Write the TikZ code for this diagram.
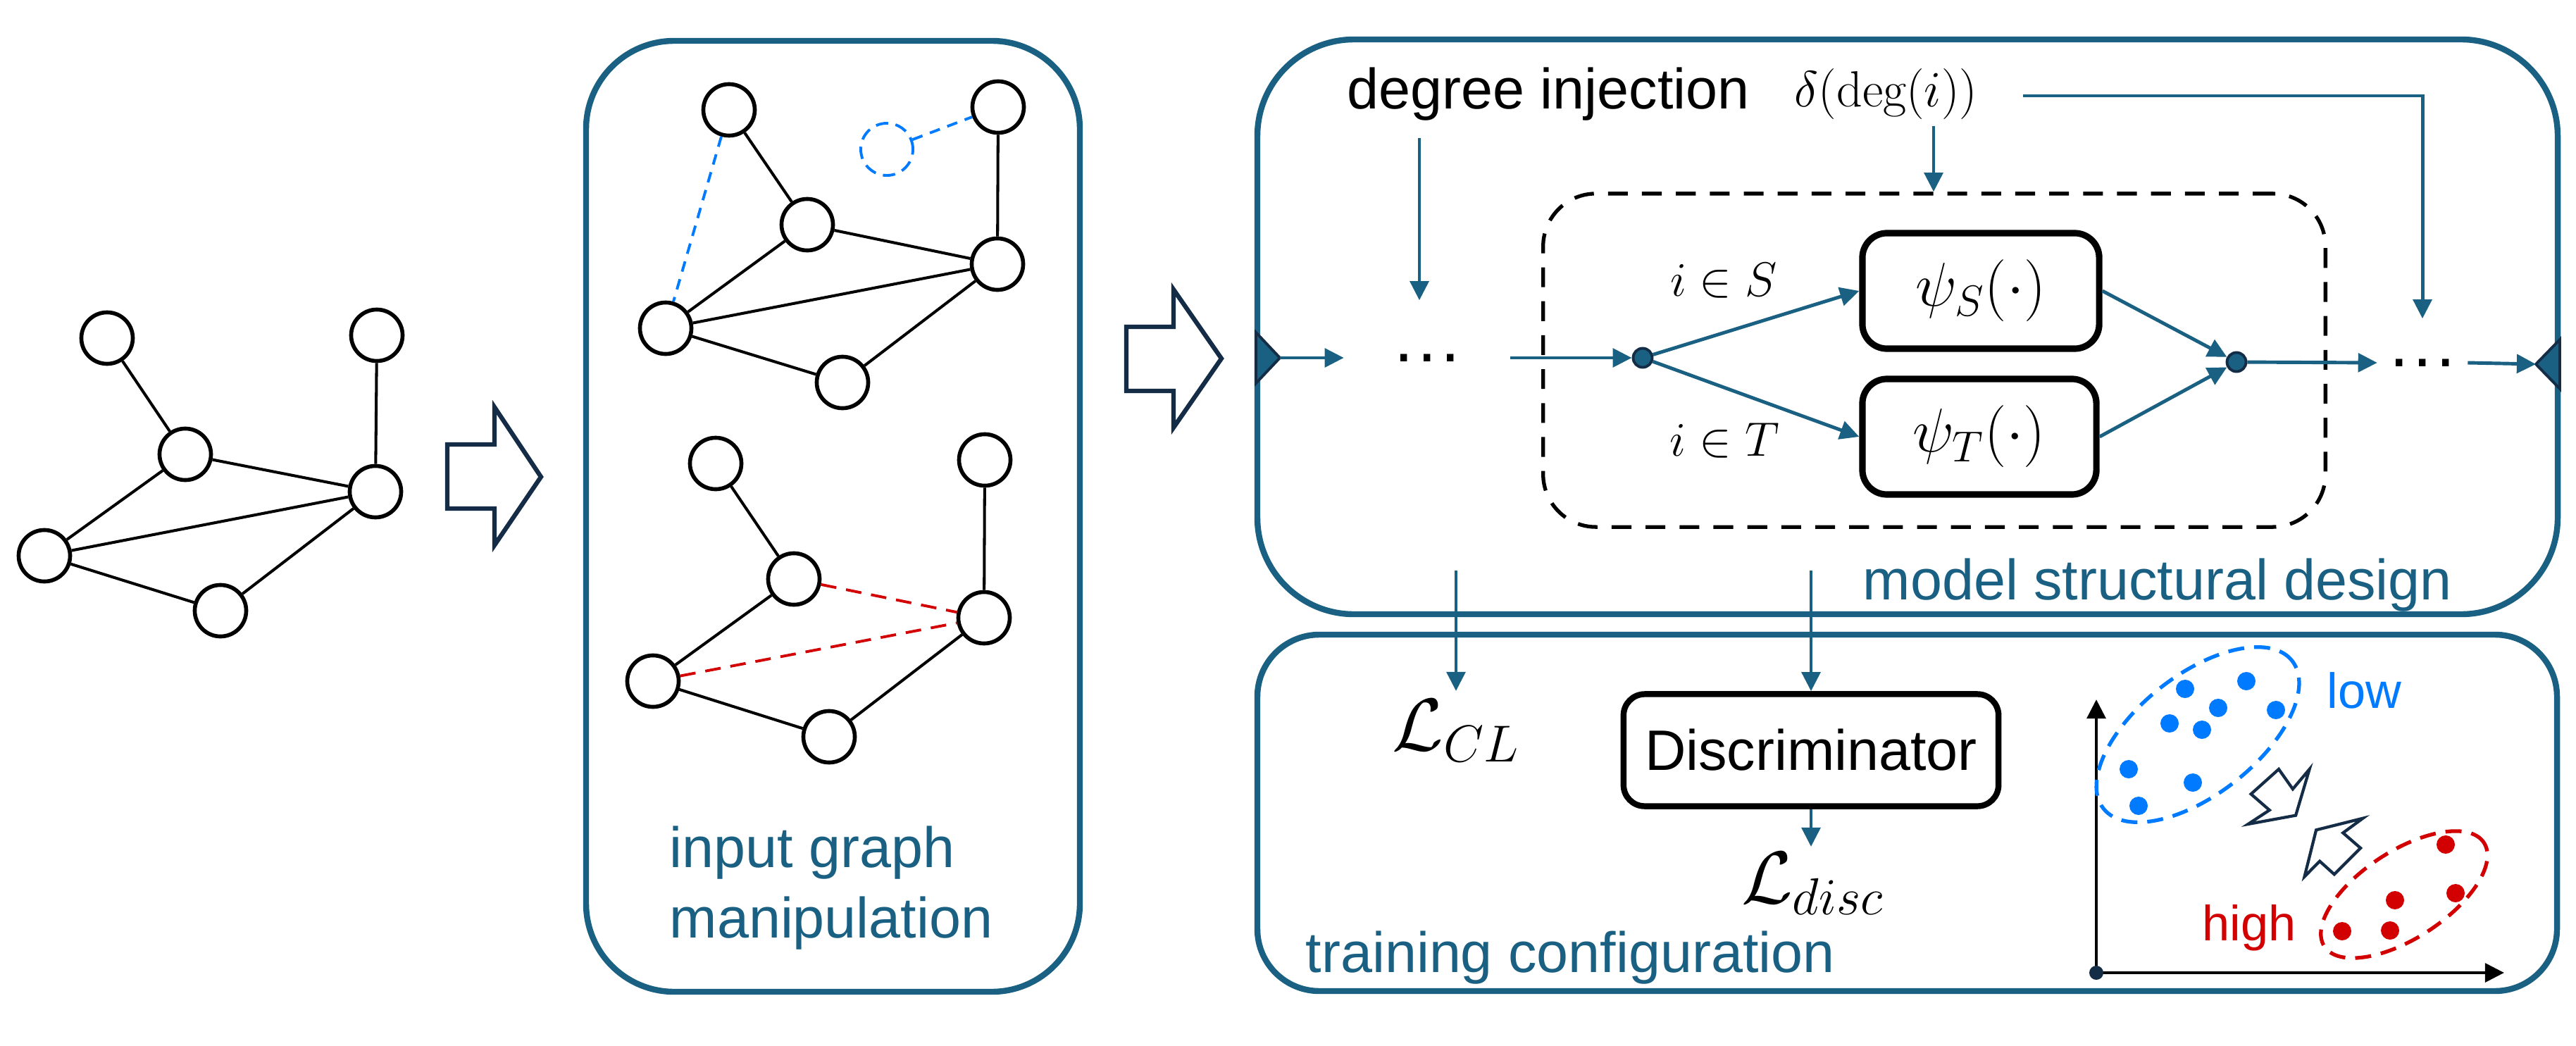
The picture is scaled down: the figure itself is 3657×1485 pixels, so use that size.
\RequirePackage{fix-cm}
\documentclass[tikz,border=0pt]{standalone}
\usepackage{amsmath}
\usepackage{fontspec}
\setsansfont{Liberation Sans}
\usepackage{tikz}
\usetikzlibrary{arrows.meta, positioning}

\definecolor{boxteal}{RGB}{26,96,130}
\definecolor{darknavy}{RGB}{20,44,70}
\definecolor{lowblue}{RGB}{0,122,255}
\definecolor{highred}{RGB}{210,0,0}

\newcommand{\lblfont}{\sffamily\fontsize{23}{28.5}\selectfont}

\begin{document}
\begin{tikzpicture}[x=0.01cm, y=-0.01cm, >={Triangle[length=7.7pt,width=7.5pt]},
    gnode/.style={circle, draw, line width=1.6pt, minimum size=0.73cm, inner sep=0pt},
    ghost/.style={circle, draw=lowblue, line width=1.1pt, dash pattern=on 5pt off 3pt, minimum size=0.74cm, inner sep=0pt},
    link/.style={line width=1.15pt},
    addlink/.style={draw=lowblue, line width=1.1pt, dash pattern=on 4.3pt off 3.2pt},
    droplink/.style={draw=highred, line width=1.1pt, dash pattern=on 6.3pt off 4pt},
    panel/.style={draw=boxteal, line width=2.4pt},
    panellabel/.style={text=boxteal, font=\lblfont, inner sep=0pt},
    bigarrow/.style={draw=darknavy, line width=1.8pt, fill=white, line join=miter},
    flow/.style={->, draw=boxteal, line width=1.4pt},
    module/.style={draw, line width=2.6pt, rounded corners=0.35cm, inner sep=0pt},
    junction/.style={circle, fill=boxteal, draw=darknavy, line width=1.1pt, minimum size=0.27cm, inner sep=0pt},
    portmark/.style={fill=boxteal, draw=darknavy, line width=1.1pt, line join=miter},
    dotsbox/.style={font=\sffamily\fontsize{28}{34}\selectfont, inner sep=0pt},
    axisline/.style={->, line width=1.4pt},
    cluster/.style={line width=1.5pt, dash pattern=on 6.5pt off 4pt}
  ]

  \fill[white] (0,0) rectangle (3657,1485);

  % original graph
  \node[gnode] (a1) at (152,480) {};
  \node[gnode] (a2) at (535,476) {};
  \node[gnode] (a3) at (263,645) {};
  \node[gnode] (a4) at (533,698) {};
  \node[gnode] (a5) at (63,789) {};
  \node[gnode] (a6) at (313,867) {};

  \path[link]
  (a1) edge (a3)
  (a2) edge (a4)
  (a3) edge (a4)
  (a3) edge (a5)
  (a5) edge (a4)
  (a5) edge (a6)
  (a6) edge (a4);

  \draw[bigarrow] (635,631) -- (702,631) -- (702,578) -- (768,677) -- (702,774) -- (702,722) -- (635,722) -- cycle;

  % input graph manipulation
  \draw[panel, rounded corners=1.25cm] (832,58) rectangle (1533,1408);

  \node[gnode] (b1) at (1035,156) {};
  \node[gnode] (b2) at (1417,152) {};
  \node[gnode] (b3) at (1146,319) {};
  \node[gnode] (b4) at (1416,375) {};
  \node[gnode] (b5) at (945,466) {};
  \node[gnode] (b6) at (1196,543) {};
  \node[ghost] (b7) at (1259,212) {};

  \path[link]
  (b1) edge (b3)
  (b2) edge (b4)
  (b3) edge (b4)
  (b3) edge (b5)
  (b5) edge (b4)
  (b5) edge (b6)
  (b6) edge (b4);
  \path[addlink]
  (b1) edge (b5)
  (b7) edge (b2);

  \node[gnode] (c1) at (1016,658) {};
  \node[gnode] (c2) at (1398,653) {};
  \node[gnode] (c3) at (1127,822) {};
  \node[gnode] (c4) at (1397,877) {};
  \node[gnode] (c5) at (927,967) {};
  \node[gnode] (c6) at (1177,1046) {};

  \path[link]
  (c1) edge (c3)
  (c2) edge (c4)
  (c3) edge (c5)
  (c5) edge (c6)
  (c6) edge (c4);
  \path[droplink]
  (c3) edge (c4)
  (c5) edge (c4);

  \node[panellabel, anchor=south west, align=left] (lblinput) at (950,1349) {input graph\\manipulation};

  \draw[bigarrow] (1599,464) -- (1666,464) -- (1666,411) -- (1734,509) -- (1666,607) -- (1666,555) -- (1599,555) -- cycle;

  % model structural design
  \draw[panel, rounded corners=1.37cm] (1785,56) rectangle (3631,872);
  \draw[panel, rounded corners=0.88cm] (1785,901) rectangle (3630,1407);

  \node[anchor=base west, inner sep=0pt, font=\lblfont] (deginj) at (1912,155) {degree injection};
  \node[anchor=base west, inner sep=0pt, font=\fontsize{20.5}{25}\selectfont] (degfn) at (2547,152) {$\delta(\deg(i))$};

  \node[draw, line width=1.5pt, dash pattern=on 8pt off 5.7pt, rounded corners=0.75cm,
        minimum width=11.1cm, minimum height=4.73cm] (branch) at (2746,511.5) {};

  \node[module, minimum width=3.36cm, minimum height=1.64cm, font=\fontsize{25}{30}\selectfont] (psiS) at (2812,413) {$\psi_S(\cdot)$};
  \node[module, minimum width=3.32cm, minimum height=1.64cm, font=\fontsize{25}{30}\selectfont] (psiT) at (2810,620) {$\psi_T(\cdot)$};

  \node[junction] (cin) at (2332,508) {};
  \node[junction] (cout) at (3175,514) {};

  \node[dotsbox, minimum width=2.35cm, minimum height=1.62cm] (dotsL) at (2026,508) {.\kern0.06em.\kern0.06em.};
  \node[dotsbox, minimum width=1.27cm, minimum height=1.24cm] (dotsR) at (3439,515) {.\kern0.06em.\kern0.06em.};

  \node[anchor=base, inner sep=0pt, font=\fontsize{19.5}{24}\selectfont] (inS) at (2447,420) {$i\in S$};
  \node[anchor=base, inner sep=0pt, font=\fontsize{19.5}{24}\selectfont] (inT) at (2448,647) {$i\in T$};

  \coordinate (in) at (1817,508);
  \coordinate (out) at (3600,517);
  \draw[portmark] (1783,472) -- (in) -- (1783,544) -- cycle;
  \draw[portmark] (3634,482) -- (out) -- (3634,552) -- cycle;

  \coordinate (injsrc) at (2015,196);
  \coordinate (degdown) at (2745,179);
  \coordinate (degsrc) at (2872,136);

  \draw[flow] (in) -- (dotsL.west);
  \draw[flow] (dotsL.east) -- (cin);
  \draw[flow] (cin) -- (psiS.west);
  \draw[flow] (cin) -- (psiT.west);
  \draw[flow] (psiS.east) -- (cout);
  \draw[flow] (psiT.east) -- (cout);
  \draw[flow] (cout) -- (dotsR.west);
  \draw[flow] (dotsR.east) -- (out);
  \draw[flow] (injsrc) -- (injsrc |- dotsL.north);
  \draw[flow] (degdown) -- (degdown |- branch.north);
  \draw[flow] (degsrc) -| (dotsR.north);

  \node[panellabel, anchor=base west] (lblmodel) at (2644,851) {model structural design};

  % training configuration
  \node[module, line width=2.4pt, rounded corners=0.3cm, minimum width=5.32cm, minimum height=1.59cm, font=\lblfont] (disc) at (2571,1065) {Discriminator};
  \node[anchor=north, inner sep=0.12cm, font=\fontsize{30}{36}\selectfont] (lcl) at (2067,981) {$\mathcal{L}_{CL}$};
  \node[anchor=north, inner sep=0.08cm, font=\fontsize{30}{36}\selectfont] (ldisc) at (2573,1202) {$\mathcal{L}_{disc}$};

  \coordinate (clsrc) at (2067,810);
  \coordinate (discsrc) at (2571,810);
  \draw[flow] (clsrc) -- (lcl.north);
  \draw[flow] (discsrc) -- (disc.north);
  \draw[flow] (disc.south) -- (disc.south |- ldisc.north);

  \node[panellabel, anchor=base west] (lbltrain) at (1853,1380) {training configuration};

  % degree groups
  \coordinate (origin) at (2976,1381);
  \coordinate (ytip) at (2976,993);
  \coordinate (xtip) at (3555,1381);
  \draw[axisline] (origin) -- (ytip);
  \draw[axisline] (origin) -- (xtip);
  \fill[darknavy] (origin) circle (0.1cm);

  \draw[cluster, draw=lowblue, rotate around={38:(3120,1043)}] (3120,1043) ellipse [x radius=1.7cm, y radius=0.85cm];
  \draw[cluster, draw=highred, rotate around={33:(3413,1270)}] (3413,1270) ellipse [x radius=1.35cm, y radius=0.62cm];

  \foreach \px/\py in {3102/978, 3189/967, 3149/1005, 3231/1008, 3080/1027, 3126/1036, 3022/1092, 3113/1111, 3036/1144}
    \fill[lowblue] (\px,\py) circle (0.13cm);
  \foreach \px/\py in {3472/1199, 3486/1268, 3400/1278, 3325/1322, 3393/1321}
    \fill[highred] (\px,\py) circle (0.13cm);

  \draw[bigarrow, line width=1.2pt] (3235,1092) -- (3254.9,1120.2) -- (3278.6,1092) -- (3259.1,1157.6) -- (3191.5,1170) -- (3221.8,1150.1) -- (3195.6,1127.3) -- cycle;
  \draw[bigarrow, line width=1.2pt] (3288.1,1178.3) -- (3354.4,1161.7) -- (3326.2,1182.4) -- (3351.1,1204) -- (3313.8,1241.3) -- (3293.1,1222.6) -- (3271.5,1244.6) -- cycle;

  \node[anchor=base west, inner sep=0pt, text=lowblue, font=\sffamily\fontsize{20}{24}\selectfont] (lbllow) at (3303,1005) {low};
  \node[anchor=base west, inner sep=0pt, text=highred, font=\sffamily\fontsize{20}{24}\selectfont] (lblhigh) at (3126,1335) {high};

\end{tikzpicture}
\end{document}
